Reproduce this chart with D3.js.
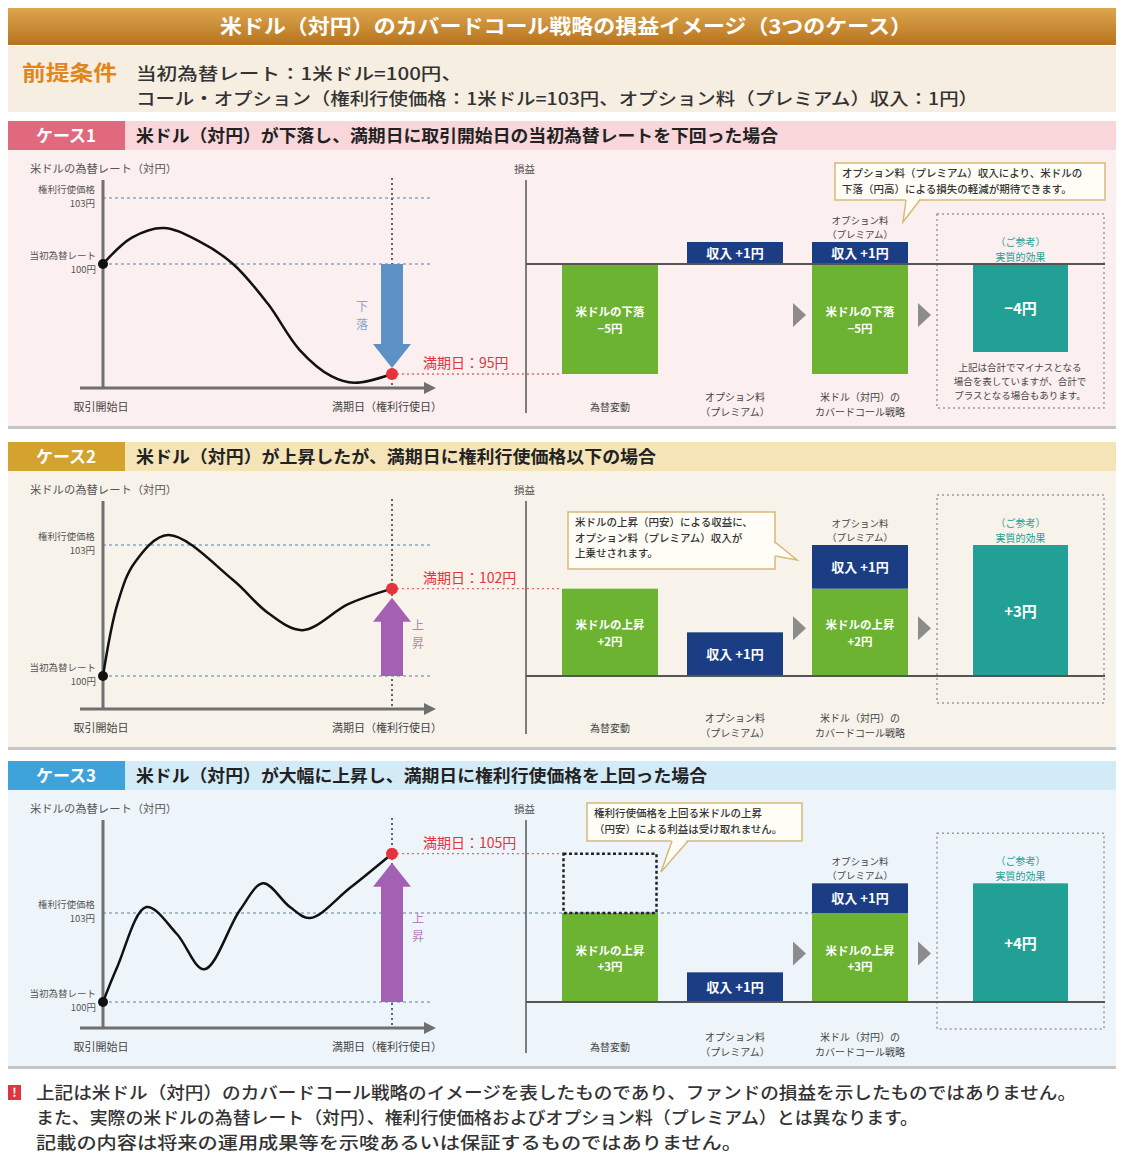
<!DOCTYPE html>
<html>
<head>
<meta charset="utf-8">
<script src="https://cdn.jsdelivr.net/npm/d3@7"></script>
<style>
body{margin:0;background:#fff}
svg{display:block}
text{font-family:"Noto Sans CJK JP","Noto Sans",sans-serif}
</style>
</head>
<body>
<svg id="chart" width="1124" height="1153"></svg>
<script>
// ---- data ----
var titleText = "米ドル（対円）のカバードコール戦略の損益イメージ（3つのケース）";
var premiseLabel = "前提条件";
var premiseLines = ["当初為替レート：1米ドル=100円、",
    "コール・オプション（権利行使価格：1米ドル=103円、オプション料（プレミアム）収入：1円）"];
var caseLabels = ["ケース1", "ケース2", "ケース3"];
var caseTitles = ["米ドル（対円）が下落し、満期日に取引開始日の当初為替レートを下回った場合",
    "米ドル（対円）が上昇したが、満期日に権利行使価格以下の場合",
    "米ドル（対円）が大幅に上昇し、満期日に権利行使価格を上回った場合"];
var startRate = 100;
var strikeRate = 103;
var maturityRates = [95, 102, 105];
var pathTime1 = [0, 0.1, 0.21, 0.33, 0.45, 0.57, 0.68, 0.79, 0.87, 1];
var pathRate1 = [100, 101.2, 101.64, 101.05, 100, 98.2, 96.1, 94.9, 94.6, 95];
var pathTime2 = [0, 0.05, 0.11, 0.225, 0.45, 0.57, 0.69, 0.85, 1];
var pathRate2 = [100, 101.65, 102.6, 103.23, 102.2, 101.45, 101.05, 101.65, 102];
var pathTime3 = [0, 0.05, 0.15, 0.255, 0.35, 0.474, 0.554, 0.647, 0.716, 0.855, 1];
var pathRate3 = [100, 101.2, 103.2, 102.3, 101.1, 103.1, 104.0, 103.2, 102.83, 103.85, 105];
var fxChange = [-5, 2, 5];      // 為替変動
var fxReceived = [-5, 2, 3];    // 受け取れる為替変動
var premiumIncome = [1, 1, 1];  // オプション料
var netEffect = [-4, 3, 4];     // 実質的効果
var fxBarNames = ["米ドルの下落", "米ドルの上昇", "米ドルの上昇"];
var pnlCategories = [["為替変動"], ["オプション料", "（プレミアム）"], ["米ドル（対円）の", "カバードコール戦略"]];
var arrowWords = ["下落", "上昇", "上昇"];
var calloutLines = [
    ["オプション料（プレミアム）収入により、米ドルの", "下落（円高）による損失の軽減が期待できます。"],
    ["米ドルの上昇（円安）による収益に、", "オプション料（プレミアム）収入が", "上乗せされます。"],
    ["権利行使価格を上回る米ドルの上昇", "（円安）による利益は受け取れません。"]];
var noteLines = ["上記は合計でマイナスとなる", "場合を表していますが、合計で", "プラスとなる場合もあります。"];
var footerLines = ["上記は米ドル（対円）のカバードコール戦略のイメージを表したものであり、ファンドの損益を示したものではありません。",
    "また、実際の米ドルの為替レート（対円）、権利行使価格およびオプション料（プレミアム）とは異なります。",
    "記載の内容は将来の運用成果等を示唆あるいは保証するものではありません。"];

var paths = [
    pathTime1.map(function (t, i) { return {t: t, v: pathRate1[i]}; }),
    pathTime2.map(function (t, i) { return {t: t, v: pathRate2[i]}; }),
    pathTime3.map(function (t, i) { return {t: t, v: pathRate3[i]}; })
];

// ---- layout / styles ----
var tops = [120, 441, 760];
var y100 = [264, 676, 1002];
var y103 = [198, 545, 913];
var bandColors = ["#f8d6da", "#f4e4b8", "#d3eaf7"];
var labelColors = ["#e0697d", "#d4a22e", "#3ea2db"];
var panelColors = ["#fcefef", "#f7f3ea", "#eef5fa"];
var arrowColors = ["#5d90c4", "#a460b2", "#a460b2"];
var arrowWordColors = ["#86a9cc", "#b77fc2", "#b77fc2"];
var arrowWordY = [311, 630, 923];
var callouts = [
    {x: 835, y: 163, w: 270, h: 37, tail: [[906, 200], [903, 222], [920, 200]]},
    {x: 568, y: 512, w: 207, h: 57, tail: [[775, 542], [797, 560], [775, 556]]},
    {x: 587, y: 803, w: 215, h: 38, tail: [[672, 841], [661, 872], [688, 841]]}
];
var GREEN = "#6cb332", NAVY = "#1b3d84", TEAL = "#22a096", RED = "#e6323d";

var svg = d3.select("#chart");
var defs = svg.append("defs");
var grad = defs.append("linearGradient").attr("id", "titleGrad")
    .attr("x1", 0).attr("y1", 0).attr("x2", 0).attr("y2", 1);
grad.append("stop").attr("offset", "0%").attr("stop-color", "#dca64f");
grad.append("stop").attr("offset", "100%").attr("stop-color", "#b7731d");

// title
svg.append("rect").attr("x", 8).attr("y", 8).attr("width", 1108).attr("height", 37).attr("fill", "url(#titleGrad)");
svg.append("text").attr("x", 566).attr("y", 34).attr("text-anchor", "middle")
    .attr("fill", "#fff").attr("font-size", 20).attr("font-weight", "bold")
    .attr("textLength", 692).attr("lengthAdjust", "spacingAndGlyphs").text(titleText);

// premise
svg.append("rect").attr("x", 8).attr("y", 46).attr("width", 1108).attr("height", 66).attr("fill", "#f6eee1");
svg.append("text").attr("x", 22).attr("y", 80).attr("fill", "#e0861c").attr("font-size", 21)
    .attr("font-weight", "bold").attr("textLength", 95).attr("lengthAdjust", "spacingAndGlyphs").text(premiseLabel);
var premiseLen = [326, 842];
var pt = svg.append("text").attr("fill", "#333").attr("font-size", 17).attr("font-weight", 500);
premiseLines.forEach(function (s, i) {
    pt.append("tspan").attr("x", 136).attr("y", 80 + i * 25)
        .attr("textLength", premiseLen[i]).attr("lengthAdjust", "spacingAndGlyphs").text(s);
});

function addText(g, x, y, s, size, color, anchor, weight) {
    return g.append("text").attr("x", x).attr("y", y).attr("font-size", size)
        .attr("fill", color).attr("text-anchor", anchor || "start")
        .attr("font-weight", weight || "normal").text(s);
}

// multi-line text as one element with tspans
function addLines(g, x, y, lines, lh, size, color, anchor, weight) {
    var t = g.append("text").attr("font-size", size).attr("fill", color)
        .attr("text-anchor", anchor || "start").attr("font-weight", weight || "normal");
    lines.forEach(function (s, k) {
        t.append("tspan").attr("x", x).attr("y", y + k * lh).text(s);
    });
    return t;
}

function arrowPath(cx, yFrom, yTip, shaftHalf, headHalf, headLen) {
    var dir = yTip > yFrom ? 1 : -1;
    var yb = yTip - dir * headLen;
    return "M" + (cx - shaftHalf) + "," + yFrom + "L" + (cx - shaftHalf) + "," + yb +
        "L" + (cx - headHalf) + "," + yb + "L" + cx + "," + yTip + "L" + (cx + headHalf) + "," + yb +
        "L" + (cx + shaftHalf) + "," + yb + "L" + (cx + shaftHalf) + "," + yFrom + "Z";
}

var titleLens = [642, 520, 571];

caseLabels.forEach(function (label, i) {
    var top = tops[i];
    var g = svg.append("g");
    var axisTop = top + 60, axisBottom = top + 268;

    // header
    g.append("rect").attr("x", 8).attr("y", top + 1).attr("width", 1108).attr("height", 29).attr("fill", bandColors[i]);
    g.append("rect").attr("x", 8).attr("y", top + 1).attr("width", 117).attr("height", 29).attr("fill", labelColors[i]);
    addText(g, 66, top + 22, label, 17, "#fff", "middle", "bold");
    addText(g, 136, top + 22, caseTitles[i], 17, "#222", "start", "bold")
        .attr("textLength", titleLens[i]).attr("lengthAdjust", "spacingAndGlyphs");

    // panel
    g.append("rect").attr("x", 8).attr("y", top + 30).attr("width", 1108).attr("height", 277).attr("fill", panelColors[i]);
    g.append("rect").attr("x", 8).attr("y", top + 306).attr("width", 1108).attr("height", 3).attr("fill", "#c6c6c6");

    // scales
    var x = d3.scaleLinear().domain([0, 1]).range([103, 392]);
    var y = d3.scaleLinear().domain([startRate, strikeRate]).range([y100[i], y103[i]]);
    var yP = function (v) { return y(startRate + v); };
    var band = d3.scaleBand().domain([0, 1, 2]).range([547.5, 922.5]).paddingInner(0.232).paddingOuter(0.116);
    var mat = maturityRates[i];

    // ---- left chart ----
    addText(g, 30, top + 53, "米ドルの為替レート（対円）", 11, "#555").attr("textLength", 147).attr("lengthAdjust", "spacingAndGlyphs");

    // reference lines
    g.append("line").attr("x1", x(0)).attr("x2", i === 2 ? 812 : 430)
        .attr("y1", y(strikeRate)).attr("y2", y(strikeRate))
        .attr("stroke", "#8fa6bf").attr("stroke-width", 1.3).attr("stroke-dasharray", "3,3");
    g.append("line").attr("x1", x(0)).attr("x2", 430)
        .attr("y1", y(startRate)).attr("y2", y(startRate))
        .attr("stroke", "#8fa6bf").attr("stroke-width", 1.3).attr("stroke-dasharray", "3,3");
    g.append("line").attr("x1", x(1)).attr("x2", x(1)).attr("y1", top + 58).attr("y2", axisBottom)
        .attr("stroke", "#555").attr("stroke-width", 1.8).attr("stroke-dasharray", "2,3");
    g.append("line").attr("x1", x(1)).attr("x2", 562).attr("y1", y(mat)).attr("y2", y(mat))
        .attr("stroke", "#e8656d").attr("stroke-width", 1.4).attr("stroke-dasharray", "2,3");

    // arrow
    var tip = mat < startRate ? y(mat) - 6 : y(mat) + 9;
    g.append("path").attr("d", arrowPath(x(1), y(startRate), tip, 11, 19, 24)).attr("fill", arrowColors[i]);
    var wx = i === 0 ? 362 : 418;
    addLines(g, wx, arrowWordY[i], arrowWords[i].split(""), 18, 12, arrowWordColors[i], "middle");

    // axes
    g.append("line").attr("x1", x(0)).attr("x2", x(0)).attr("y1", axisTop).attr("y2", axisBottom + 1)
        .attr("stroke", "#707070").attr("stroke-width", 3);
    g.append("line").attr("x1", 80).attr("x2", 426).attr("y1", axisBottom).attr("y2", axisBottom)
        .attr("stroke", "#707070").attr("stroke-width", 3);
    g.append("path").attr("d", "M424," + (axisBottom - 6) + "L436," + axisBottom + "L424," + (axisBottom + 6) + "Z")
        .attr("fill", "#707070");

    // tick labels
    addLines(g, 95, y(strikeRate) - 5, ["権利行使価格", "103円"], 14, 9.5, "#555", "end");
    addLines(g, 96, y(startRate) - 5, ["当初為替レート", "100円"], 14, 9.5, "#555", "end");
    addText(g, 101, top + 291, "取引開始日", 11, "#444", "middle");
    addText(g, 387, top + 291, "満期日（権利行使日）", 11, "#444", "middle");

    // curve
    var line = d3.line().x(function (d) { return x(d.t); }).y(function (d) { return y(d.v); })
        .curve(d3.curveCatmullRom.alpha(0.5));
    g.append("path").attr("d", line(paths[i])).attr("fill", "none").attr("stroke", "#111").attr("stroke-width", 2.5);
    g.append("circle").attr("cx", x(0)).attr("cy", y(startRate)).attr("r", 5).attr("fill", "#111");
    g.append("circle").attr("cx", x(1)).attr("cy", y(mat)).attr("r", 6).attr("fill", RED);
    addText(g, 423, y(mat) - 6, "満期日：" + mat + "円", 14, RED, "start");

    // ---- right chart ----
    addText(g, 514, top + 53, "損益", 10.5, "#555");
    g.append("line").attr("x1", 526).attr("x2", 526).attr("y1", top + 60).attr("y2", top + 293)
        .attr("stroke", "#555").attr("stroke-width", 1.5);

    function bar(x0, w, v0, v1, fill) {
        return g.append("rect").attr("x", x0).attr("width", w)
            .attr("y", Math.min(yP(v0), yP(v1))).attr("height", Math.abs(yP(v0) - yP(v1))).attr("fill", fill);
    }
    var bw = band.bandwidth();
    // column 0: 為替変動
    bar(band(0), bw, 0, fxReceived[i], GREEN);
    if (fxChange[i] !== fxReceived[i]) {
        bar(band(0) + 1.5, bw - 3, fxReceived[i], fxChange[i], "none")
            .attr("stroke", "#222").attr("stroke-width", 2.5).attr("stroke-dasharray", "3,2.5");
    }
    // column 1: premium
    bar(band(1), bw, 0, premiumIncome[i], NAVY);
    // column 2: covered call
    var base = Math.max(fxReceived[i], 0);
    bar(band(2), bw, 0, fxReceived[i], GREEN);
    bar(band(2), bw, base, base + premiumIncome[i], NAVY);
    // teal reference
    var tx = 973, tw = 95;
    bar(tx, tw, 0, netEffect[i], TEAL);

    // labels in bars
    var fxStr = (fxReceived[i] > 0 ? "+" : "−") + Math.abs(fxReceived[i]) + "円";
    [0, 2].forEach(function (c) {
        var mid = (yP(0) + yP(fxReceived[i])) / 2;
        addLines(g, band(c) + bw / 2, mid - 3, [fxBarNames[i], fxStr], 16.5, 11.5, "#fff", "middle", "bold");
    });
    [[1, 0], [2, base]].forEach(function (p) {
        var mid = (yP(p[1]) + yP(p[1] + premiumIncome[i])) / 2;
        addText(g, band(p[0]) + bw / 2, mid + 5, "収入 +" + premiumIncome[i] + "円", 13, "#fff", "middle", "bold");
    });
    var tmid = (yP(0) + yP(netEffect[i])) / 2;
    addText(g, tx + tw / 2, tmid + 6, (netEffect[i] > 0 ? "+" : "−") + Math.abs(netEffect[i]) + "円", 15, "#fff", "middle", "bold");

    // option label above column 2
    var navyTop = yP(base + premiumIncome[i]);
    addLines(g, band(2) + bw / 2, navyTop - 18, ["オプション料", "（プレミアム）"], 14, 9.5, "#444", "middle");

    // reference label + dotted box
    var tealTop = yP(Math.max(netEffect[i], 0));
    addLines(g, tx + tw / 2, tealTop - 18, ["（ご参考）", "実質的効果"], 14.5, 10, TEAL, "middle");
    var boxTop = tealTop - 50;
    var boxBottom = netEffect[i] < 0 ? yP(netEffect[i]) + 56 : yP(0) + 27;
    g.append("rect").attr("x", 937).attr("y", boxTop).attr("width", 167).attr("height", boxBottom - boxTop)
        .attr("fill", "none").attr("stroke", "#9a9a9a").attr("stroke-width", 1.5).attr("stroke-dasharray", "2,3");
    if (netEffect[i] < 0) {
        addLines(g, 1020, yP(netEffect[i]) + 19, noteLines, 14, 9.5, "#444", "middle");
    }

    // zero line
    g.append("line").attr("x1", 526).attr("x2", 1105).attr("y1", yP(0)).attr("y2", yP(0))
        .attr("stroke", "#555").attr("stroke-width", 2);

    // flow triangles
    var triY = (yP(0) + yP(fxReceived[i])) / 2 - 4;
    [793, 918].forEach(function (tx0) {
        g.append("path").attr("d", "M" + tx0 + "," + (triY - 12) + "L" + (tx0 + 13) + "," + triY + "L" + tx0 + "," + (triY + 12) + "Z")
            .attr("fill", "#8c8c8c");
    });

    // category labels
    pnlCategories.forEach(function (lines, c) {
        var yy = lines.length === 1 ? top + 291 : top + 281;
        addLines(g, band(c) + bw / 2, yy, lines, 14.5, 10, "#444", "middle");
    });

    // callout
    var co = callouts[i];
    g.append("rect").attr("x", co.x).attr("y", co.y).attr("width", co.w).attr("height", co.h)
        .attr("fill", "#fffdf6").attr("stroke", "#d7b97a").attr("stroke-width", 1.5);
    var t = co.tail;
    var inset = t[0][0] === t[2][0] ? [-2, 0] : [0, -2];
    g.append("path").attr("d", "M" + (t[0][0] + inset[0]) + "," + (t[0][1] + inset[1]) + "L" + t[1][0] + "," + t[1][1] +
        "L" + (t[2][0] + inset[0]) + "," + (t[2][1] + inset[1]) + "Z").attr("fill", "#fffdf6");
    g.append("path").attr("d", "M" + t[0][0] + "," + t[0][1] + "L" + t[1][0] + "," + t[1][1] + "L" + t[2][0] + "," + t[2][1])
        .attr("fill", "none").attr("stroke", "#d7b97a").attr("stroke-width", 1.5);
    addLines(g, co.x + 7, co.y + 14, calloutLines[i], 15.5, 10.5, "#333", "start", 500);
});

// footer
svg.append("rect").attr("x", 8).attr("y", 1085).attr("width", 13).attr("height", 15).attr("fill", "#e2343f");
svg.append("text").attr("x", 14.5).attr("y", 1097).attr("text-anchor", "middle").attr("fill", "#fff")
    .attr("font-size", 12).attr("font-weight", "bold").text("!");
var footerLen = [1040, 882, 706];
var ft = svg.append("text").attr("fill", "#333").attr("font-size", 17).attr("font-weight", 500);
footerLines.forEach(function (s, i) {
    ft.append("tspan").attr("x", 36).attr("y", 1099 + i * 25)
        .attr("textLength", footerLen[i]).attr("lengthAdjust", "spacingAndGlyphs").text(s);
});
</script>
</body>
</html>
